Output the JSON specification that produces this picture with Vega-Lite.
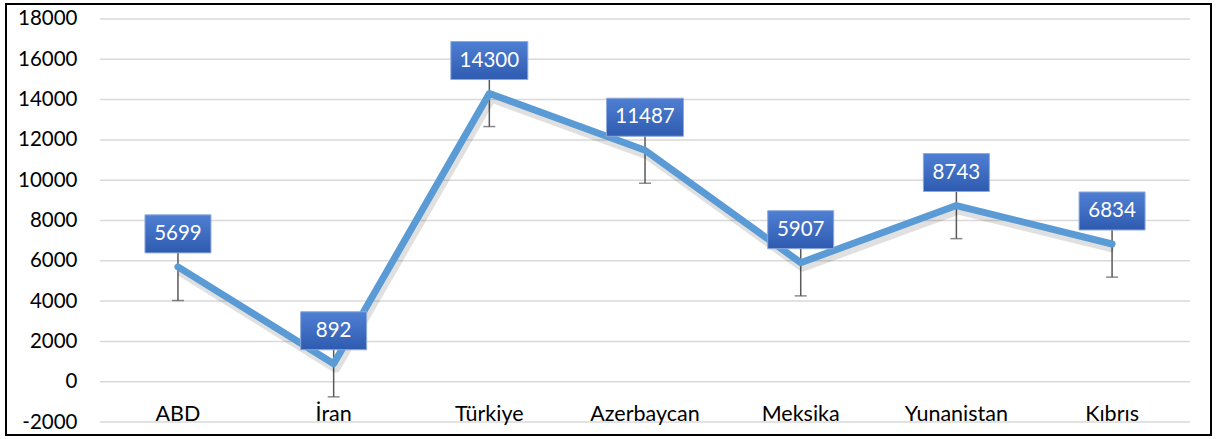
{
  "$schema": "https://vega.github.io/schema/vega-lite/v6.json",
  "width": 1205,
  "height": 431,
  "padding": {"left": 6, "top": 4, "right": 6, "bottom": 4},
  "autosize": {"type": "none"},
  "background": "white",
  "config": {
    "view": {"stroke": "black", "strokeWidth": 2},
    "font": "Lato"
  },
  "datasets": {
    "main": [
      {"ulke": "ABD", "deger": 5699, "alt": 4030, "ust": 7340},
      {"ulke": "İran", "deger": 892, "alt": -750, "ust": 2530},
      {"ulke": "Türkiye", "deger": 14300, "alt": 12660, "ust": 15940},
      {"ulke": "Azerbaycan", "deger": 11487, "alt": 9850, "ust": 13130},
      {"ulke": "Meksika", "deger": 5907, "alt": 4260, "ust": 7550},
      {"ulke": "Yunanistan", "deger": 8743, "alt": 7100, "ust": 10380},
      {"ulke": "Kıbrıs", "deger": 6834, "alt": 5190, "ust": 8470}
    ],
    "grid": [
      {"g": -2000}, {"g": 0}, {"g": 2000}, {"g": 4000}, {"g": 6000}, {"g": 8000},
      {"g": 10000}, {"g": 12000}, {"g": 14000}, {"g": 16000}, {"g": 18000}
    ]
  },
  "data": {"name": "main"},
  "encoding": {
    "x": {
      "field": "ulke", "type": "nominal", "sort": null,
      "scale": {"type": "band", "domain": ["ABD", "İran", "Türkiye", "Azerbaycan", "Meksika", "Yunanistan", "Kıbrıs"], "paddingInner": 0, "paddingOuter": 0.37, "align": 0.817},
      "axis": {"title": null, "orient": "bottom", "offset": -34, "zindex": 1, "domain": false, "ticks": false, "labelAngle": 0, "labelFontSize": 21.5, "labelColor": "#000000", "labelPadding": 2, "labelFont": "Lato"}
    }
  },
  "layer": [
    {
      "data": {"name": "grid"},
      "mark": {"type": "rule", "color": "#D9D9D9", "strokeWidth": 1.5},
      "encoding": {
        "x": {"datum": "ABD", "bandPosition": 0},
        "x2": {"datum": "Kıbrıs", "bandPosition": 1},
        "y": {
          "field": "g", "type": "quantitative",
          "scale": {"domain": [-2643, 18742], "nice": false, "zero": false},
          "axis": {"title": null, "labelExpr": "'' + datum.value", "values": [-2000, 0, 2000, 4000, 6000, 8000, 10000, 12000, 14000, 16000, 18000], "offset": -73, "grid": false, "domain": false, "ticks": false, "labelFontSize": 20.5, "labelColor": "#000000", "labelPadding": 2, "labelFont": "Lato"}
        }
      }
    },
    {
      "mark": {"type": "rule", "color": "#595959", "strokeWidth": 1.5},
      "encoding": {
        "y": {"field": "alt", "type": "quantitative"},
        "y2": {"field": "ust"}
      }
    },
    {
      "mark": {"type": "tick", "orient": "horizontal", "color": "#595959", "thickness": 1.5, "size": 12},
      "encoding": {"y": {"field": "alt", "type": "quantitative"}}
    },
    {
      "mark": {"type": "tick", "orient": "horizontal", "color": "#595959", "thickness": 1.5, "size": 12},
      "encoding": {"y": {"field": "ust", "type": "quantitative"}}
    },
    {
      "mark": {"type": "line", "color": "#000000", "opacity": 0.12, "strokeWidth": 10, "xOffset": 2, "yOffset": 4, "strokeJoin": "round"},
      "encoding": {"y": {"field": "deger", "type": "quantitative"}}
    },
    {
      "mark": {"type": "line", "color": "#5B9BD5", "strokeWidth": 7, "strokeJoin": "round", "strokeCap": "round"},
      "encoding": {"y": {"field": "deger", "type": "quantitative"}}
    },
    {
      "transform": [{"filter": "datum.deger < 10000"}],
      "mark": {
        "type": "point", "filled": true, "opacity": 1, "size": 4356, "yOffset": -33,
        "shape": "M-1,-0.576H1V0.576H-1Z",
        "fill": {"gradient": "linear", "x1": 0, "y1": 0, "x2": 0, "y2": 1, "stops": [{"offset": 0, "color": "#4F7FD3"}, {"offset": 1, "color": "#2E5BB0"}]},
        "stroke": "#8FAADC", "strokeWidth": 1
      },
      "encoding": {"y": {"field": "deger", "type": "quantitative"}}
    },
    {
      "transform": [{"filter": "datum.deger >= 10000"}],
      "mark": {
        "type": "point", "filled": true, "opacity": 1, "size": 5929, "yOffset": -33,
        "shape": "M-1,-0.494H1V0.494H-1Z",
        "fill": {"gradient": "linear", "x1": 0, "y1": 0, "x2": 0, "y2": 1, "stops": [{"offset": 0, "color": "#4F7FD3"}, {"offset": 1, "color": "#2E5BB0"}]},
        "stroke": "#8FAADC", "strokeWidth": 1
      },
      "encoding": {"y": {"field": "deger", "type": "quantitative"}}
    },
    {
      "mark": {"type": "text", "color": "#FFFFFF", "fontSize": 20.5, "font": "Lato", "yOffset": -33, "baseline": "middle", "align": "center"},
      "encoding": {
        "y": {"field": "deger", "type": "quantitative"},
        "text": {"field": "deger", "type": "quantitative", "format": "d"}
      }
    }
  ]
}
